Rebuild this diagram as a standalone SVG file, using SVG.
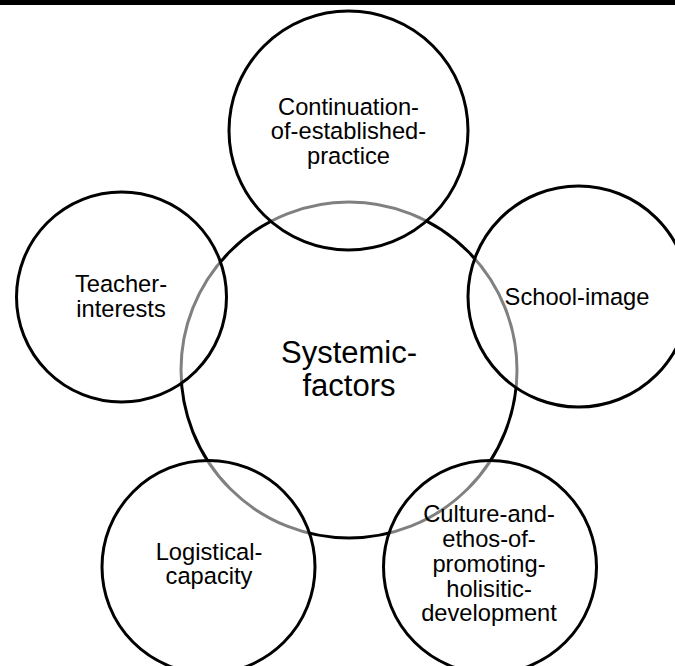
<svg xmlns="http://www.w3.org/2000/svg" width="675" height="666" viewBox="0 0 675 666">
<style>
.c{stroke:#000;stroke-width:3}
.hub{fill:#fff}
.sat{fill:#fff;fill-opacity:0.5}
text{font-family:"Liberation Sans",Arial,sans-serif;fill:#000;text-anchor:middle}
.t{font-size:23.7px}
.h{font-size:31px}
</style>
<rect x="0" y="0" width="675" height="666" fill="#fff"/>
<rect id="topbar" x="0" y="0" width="675" height="5" fill="#000"/>
<g id="connectors"/>
<g id="hub">
<circle class="c hub" cx="349" cy="370" r="168"/>
<text class="h"><tspan x="349" y="363.3">Systemic-</tspan><tspan x="349" y="396">factors</tspan></text>
</g>
<g id="node-continuation">
<circle class="c sat" cx="348.5" cy="130.5" r="119.5"/>
<text class="t"><tspan x="348.5" y="115">Continuation-</tspan><tspan x="348.5" y="139.3">of-established-</tspan><tspan x="348.5" y="163.5">practice</tspan></text>
</g>
<g id="node-school">
<circle class="c sat" cx="578.5" cy="296.5" r="110.5"/>
<text class="t" x="577" y="305">School-image</text>
</g>
<g id="node-culture">
<circle class="c sat" cx="490" cy="567" r="106.5"/>
<text class="t"><tspan x="489" y="521.7">Culture-and-</tspan><tspan x="489" y="546.5">ethos-of-</tspan><tspan x="489" y="571.5">promoting-</tspan><tspan x="489" y="596.5">holisitic-</tspan><tspan x="489" y="621.3">development</tspan></text>
</g>
<g id="node-logistical">
<circle class="c sat" cx="208.5" cy="567" r="106.5"/>
<text class="t"><tspan x="209" y="559.5">Logistical-</tspan><tspan x="209" y="584">capacity</tspan></text>
</g>
<g id="node-teacher">
<circle class="c sat" cx="121.5" cy="297" r="105"/>
<text class="t"><tspan x="121" y="291.7">Teacher-</tspan><tspan x="121" y="316.7">interests</tspan></text>
</g>
</svg>
